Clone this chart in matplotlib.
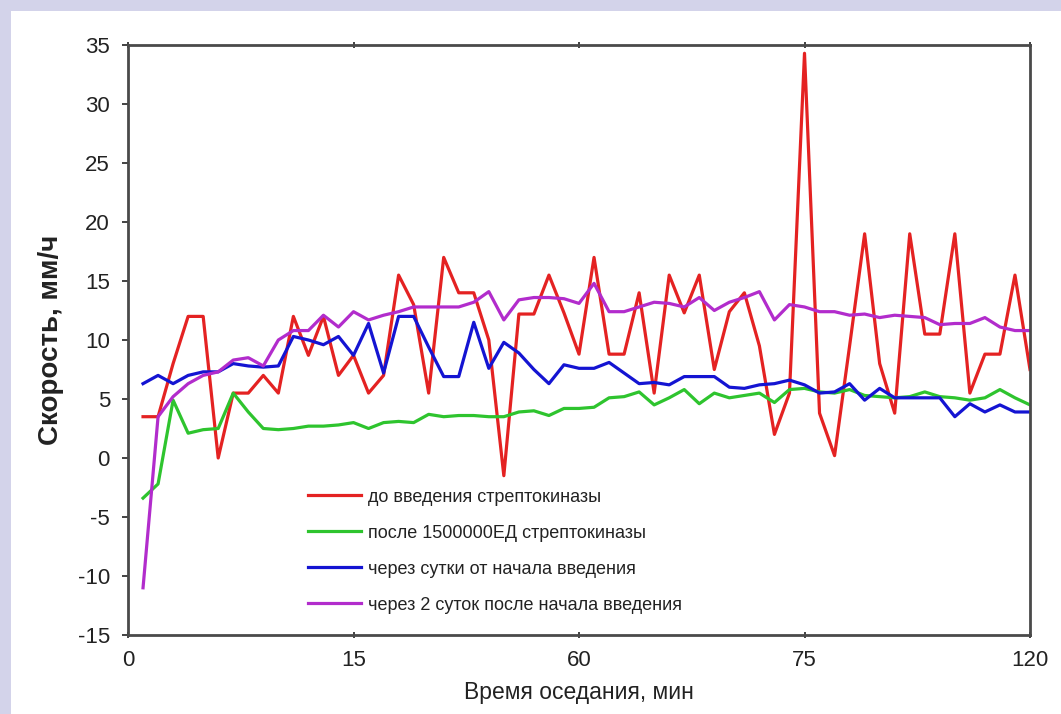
import matplotlib
matplotlib.use("Agg")
import matplotlib.pyplot as plt
from matplotlib.patches import Rectangle

# ---- data ----
x_points = list(range(1, 61))
tick_positions = [0, 15, 30, 45, 60]
tick_labels = ["0", "15", "60", "75", "120"]
y_ticks = [-15, -10, -5, 0, 5, 10, 15, 20, 25, 30, 35]

series_names = [
    "до введения стрептокиназы",
    "после 1500000ЕД стрептокиназы",
    "через сутки от начала введения",
    "через 2 суток после начала введения",
]

red = [3.5, 3.5, 8, 12, 12, 0, 5.5, 5.5, 7, 5.5,
       12, 8.7, 12, 7, 8.7, 5.5, 7, 15.5, 13, 5.5,
       17, 14, 14, 10, -1.5, 12.2, 12.2, 15.5, 12.3, 8.8,
       17, 8.8, 8.8, 14, 5.5, 15.5, 12.3, 15.5, 7.5, 12.4,
       14, 9.5, 2, 5.5, 34.3, 3.8, 0.2, 9.5, 19, 8,
       3.8, 19, 10.5, 10.5, 19, 5.5, 8.8, 8.8, 15.5, 7.5]

green = [-3.4, -2.2, 4.9, 2.1, 2.4, 2.5, 5.5, 3.9, 2.5, 2.4,
         2.5, 2.7, 2.7, 2.8, 3.0, 2.5, 3.0, 3.1, 3.0, 3.7,
         3.5, 3.6, 3.6, 3.5, 3.5, 3.9, 4.0, 3.6, 4.2, 4.2,
         4.3, 5.1, 5.2, 5.6, 4.5, 5.1, 5.8, 4.6, 5.5, 5.1,
         5.3, 5.5, 4.7, 5.8, 5.9, 5.6, 5.5, 5.8, 5.3, 5.2,
         5.1, 5.2, 5.6, 5.2, 5.1, 4.9, 5.1, 5.8, 5.1, 4.5]

blue = [6.3, 7.0, 6.3, 7.0, 7.3, 7.3, 8.0, 7.8, 7.7, 7.8,
        10.3, 10.0, 9.6, 10.3, 8.7, 11.4, 7.2, 12.0, 12.0, 9.4,
        6.9, 6.9, 11.5, 7.6, 9.8, 8.9, 7.5, 6.3, 7.9, 7.6,
        7.6, 8.1, 7.2, 6.3, 6.4, 6.2, 6.9, 6.9, 6.9, 6.0,
        5.9, 6.2, 6.3, 6.6, 6.2, 5.5, 5.6, 6.3, 4.9, 5.9,
        5.1, 5.1, 5.1, 5.1, 3.5, 4.6, 3.9, 4.5, 3.9, 3.9]

purple = [-11.0, 3.5, 5.2, 6.3, 7.0, 7.3, 8.3, 8.5, 7.8, 10.0,
          10.8, 10.8, 12.1, 11.1, 12.4, 11.7, 12.1, 12.4, 12.8, 12.8,
          12.8, 12.8, 13.2, 14.1, 11.7, 13.4, 13.6, 13.6, 13.5, 13.1,
          14.8, 12.4, 12.4, 12.8, 13.2, 13.1, 12.8, 13.6, 12.5, 13.2,
          13.6, 14.1, 11.7, 13.0, 12.8, 12.4, 12.4, 12.1, 12.2, 11.9,
          12.1, 12.0, 11.9, 11.3, 11.4, 11.4, 11.9, 11.1, 10.8, 10.8]

colors = ["#e42222", "#2ec42e", "#1414d2", "#b22ccc"]

plt.rcParams['font.family'] = ['Liberation Sans', 'DejaVu Sans']
plt.rcParams['axes.unicode_minus'] = False

W, H = 1061, 714
fig = plt.figure(figsize=(W / 100, H / 100), dpi=100, facecolor="#d3d3ea")
bg = fig.add_axes([11 / W, 0, 1 - 11 / W, (H - 11) / H], zorder=-5)
bg.set_axis_off()
bg.add_patch(Rectangle((0, 0), 1, 1, transform=bg.transAxes,
                       facecolor="white", edgecolor="none"))

ax = fig.add_axes([128 / W, (H - 635) / H, 902 / W, 590 / H], zorder=1)
for vals, col, name in zip([red, green, blue, purple], colors, series_names):
    ax.plot(x_points, vals, color=col, lw=2.3, label=name)

ax.set_xlim(0, 60)
ax.set_ylim(-15, 35)
ax.set_xticks(tick_positions)
ax.set_xticklabels(tick_labels)
ax.set_yticks(y_ticks)
ax.tick_params(axis='both', labelsize=16, colors="#222222", length=4, width=1.2)
ax.tick_params(axis='x', top=True, direction='inout', pad=9)
ax.tick_params(axis='y', direction='out', pad=9)
for s in ax.spines.values():
    s.set_color("#4a4a4a")
    s.set_linewidth(2)

ax.set_xlabel("Время оседания, мин", fontsize=16.5, color="#222222", labelpad=7)
ax.set_ylabel("Скорость, мм/ч", fontsize=20, fontweight='bold', color="#222222",
              labelpad=10)

leg = ax.legend(loc='upper left', bbox_to_anchor=(0.2, 0.248), frameon=False,
                fontsize=13, handlelength=2.9, handletextpad=0.4,
                labelspacing=1.05, borderpad=0, borderaxespad=0)
for t in leg.get_texts():
    t.set_color("#222222")

fig.savefig("out.png", dpi=100, facecolor=fig.get_facecolor())
